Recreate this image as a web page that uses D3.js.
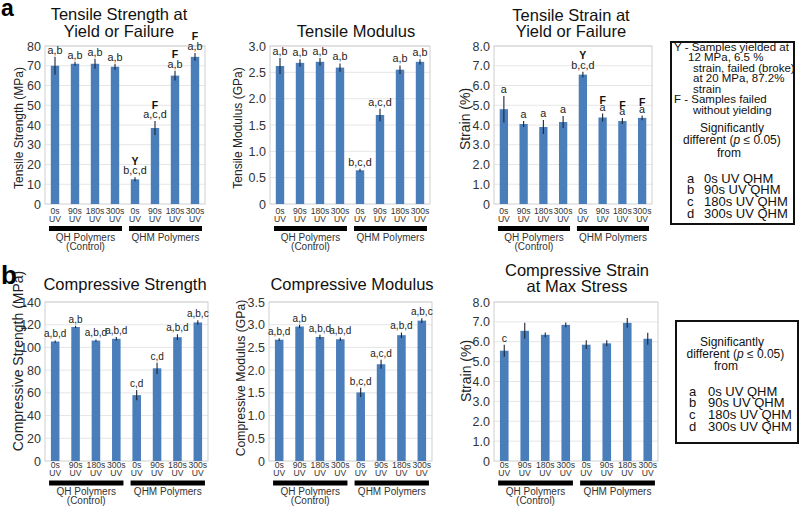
<!DOCTYPE html>
<html><head><meta charset="utf-8">
<script src="https://cdn.jsdelivr.net/npm/d3@7"></script>
<style>
body{margin:0;background:#fff;}
svg{display:block;font-family:"Liberation Sans",Arial,sans-serif;}
</style></head><body>
<svg id="c" width="800" height="508"></svg>
<script>
// ---------- DATA ----------
const categories = ["0s UV","90s UV","180s UV","300s UV","0s UV","90s UV","180s UV","300s UV"];
const groupLabels = ["QH Polymers","QHM Polymers"];
const groupSubLabels = ["(Control)",""];

const tensileStrength     = [70, 71, 71, 69.5, 12.5, 38.5, 65, 74.5];
const tensileStrengthErr  = [4.5, 1, 2.5, 1.5, 1, 3.5, 2.5, 2];
const tensileStrengthSig  = ["a,b","a,b","a,b","a,b","b,c,d","a,c,d","a,b","a,b"];
const tensileStrengthMark = ["","","","","Y","F","F","F"];

const tensileModulus     = [2.62, 2.68, 2.70, 2.59, 0.64, 1.69, 2.55, 2.70];
const tensileModulusErr  = [0.15, 0.07, 0.07, 0.08, 0.03, 0.12, 0.08, 0.05];
const tensileModulusSig  = ["a,b","a,b","a,b","a,b","b,c,d","a,c,d","a,b","a,b"];

const tensileStrain     = [4.8, 4.05, 3.9, 4.15, 6.55, 4.38, 4.2, 4.36];
const tensileStrainErr  = [0.67, 0.15, 0.35, 0.3, 0.15, 0.2, 0.15, 0.12];
const tensileStrainSig  = ["a","a","a","a","b,c,d","a","a","a"];
const tensileStrainMark = ["","","","","Y","F","F","F"];

const compStrength     = [105.2, 118, 106, 107.6, 58, 81.6, 109, 122];
const compStrengthErr  = [1, 1, 1, 1.5, 4.5, 5, 2.5, 2];
const compStrengthSig  = ["a,b,d","a,b","a,b,d","a,b,d","c,d","c,d","a,b,d","a,b,c"];

const compModulus     = [2.67, 2.96, 2.73, 2.68, 1.51, 2.13, 2.77, 3.09];
const compModulusErr  = [0.03, 0.04, 0.05, 0.04, 0.1, 0.1, 0.06, 0.05];
const compModulusSig  = ["a,b,d","a,b","a,b,d","a,b,d","b,c,d","a,c,d","a,b,d","a,b,c"];

const compStrain     = [5.55, 6.55, 6.35, 6.85, 5.85, 5.92, 6.95, 6.15];
const compStrainErr  = [0.3, 0.4, 0.12, 0.12, 0.22, 0.15, 0.25, 0.3];
const compStrainSig  = ["c","","","","","","",""];

const legendTopLines = [
  ["Y - Samples yielded at", 0],
  ["12 MPa, 6.5 %", 14],
  ["strain, failed (broke)", 19],
  ["at 20 MPa, 87.2%", 19],
  ["strain", 19],
  ["F - Samples failed", 0],
  ["without yielding", 19]
];
const sigHeader = ["Significantly", "different (", "p", " \u2264 0.05)", "from"];
const sigKeys = ["a","b","c","d"];
const sigNames = ["0s UV QHM","90s UV QHM","180s UV QHM","300s UV QHM"];

// ---------- DRAW ----------
const svg = d3.select("#c");
const BAR = "#4a7ebb";
const NARROW = "'Liberation Sans Narrow','Arial Narrow','Liberation Sans',Arial,sans-serif";
const f1 = d3.format(".1f");

function panel(cfg) {
  const g = svg.append("g");
  const n = categories.length;
  const x = d3.scaleBand().domain(d3.range(n)).range([cfg.x0, cfg.x1]).paddingInner(0.58).paddingOuter(0.29);
  const step = x.step();
  const y = d3.scaleLinear().domain([0, cfg.ymax]).range([cfg.y1, cfg.y0]);
  const ticks = d3.range(0, cfg.ymax + cfg.step / 2, cfg.step);

  g.selectAll("line.grid").data(ticks.slice(1)).join("line")
    .attr("x1", cfg.x0).attr("x2", cfg.x1)
    .attr("y1", d => y(d)).attr("y2", d => y(d))
    .attr("stroke", "#e6e6e6").attr("stroke-width", 1);
  g.append("rect").attr("x", cfg.x0).attr("y", cfg.y0)
    .attr("width", cfg.x1 - cfg.x0).attr("height", cfg.y1 - cfg.y0)
    .attr("fill", "none").attr("stroke", "#cfcfcf").attr("stroke-width", 1);

  const ax = g.append("g").attr("transform", `translate(${cfg.x0},0)`)
    .call(d3.axisLeft(y).tickValues(ticks).tickSize(0).tickPadding(4)
      .tickFormat(d => d === 0 ? "0" : cfg.fmt(d)));
  ax.select(".domain").remove();
  ax.attr("font-family", null).attr("font-size", null);
  ax.selectAll("text").attr("font-size", 12.5).attr("fill", "#333");

  // bars
  g.selectAll("rect.bar").data(cfg.values).join("rect")
    .attr("x", (d, i) => x(i)).attr("width", x.bandwidth())
    .attr("y", d => y(d)).attr("height", d => y(0) - y(d))
    .attr("fill", BAR);
  // error bars
  g.selectAll("line.err").data(cfg.values).join("line")
    .attr("x1", (d, i) => x(i) + x.bandwidth() / 2).attr("x2", (d, i) => x(i) + x.bandwidth() / 2)
    .attr("y1", (d, i) => y(d - cfg.err[i])).attr("y2", (d, i) => y(d + cfg.err[i]))
    .attr("stroke", "#1c2433").attr("stroke-width", 1.1);
  // significance labels
  g.selectAll("text.sig").data(cfg.sig).join("text")
    .attr("x", (d, i) => x(i) + x.bandwidth() / 2)
    .attr("y", (d, i) => y(cfg.values[i] + cfg.err[i]) - 3)
    .attr("text-anchor", "middle").attr("font-size", cfg.sigSize).attr("fill", "#222")
    .text(d => d);
  if (cfg.marks) {
    g.selectAll("text.mark").data(cfg.marks).join("text")
      .attr("x", (d, i) => x(i) + x.bandwidth() / 2)
      .attr("y", (d, i) => y(cfg.values[i] + cfg.err[i]) - 3 - (/[bdfhklt]/.test(cfg.sig[i]) ? 9.5 : 6.5))
      .attr("text-anchor", "middle").attr("font-size", 10.5).attr("font-weight", "bold").attr("fill", "#111")
      .text(d => d);
  }
  // category labels
  const cl = g.selectAll("text.cat").data(categories).join("text")
    .attr("text-anchor", "middle").attr("font-size", 8.6).attr("font-family", NARROW).attr("fill", "#333");
  cl.each(function (d, i) {
    const parts = d.split(" ");
    const t = d3.select(this);
    t.append("tspan").attr("x", x(i) + x.bandwidth() / 2).attr("y", cfg.y1 + cfg.lab[0]).text(parts[0]);
    t.append("tspan").attr("x", x(i) + x.bandwidth() / 2).attr("y", cfg.y1 + cfg.lab[1]).text(parts[1]);
  });
  // group bars
  const per = n / groupLabels.length;
  groupLabels.forEach((gl, k) => {
    const a = x(k * per) - x.paddingOuter() * step + 0.2 * step;
    const b = x((k + 1) * per - 1) + x.bandwidth() + x.paddingOuter() * step - 0.15 * step;
    g.append("rect").attr("x", a).attr("y", cfg.y1 + cfg.lab[2]).attr("width", b - a).attr("height", 5).attr("fill", "#000");
    g.append("text").attr("x", (a + b) / 2).attr("y", cfg.y1 + cfg.lab[3])
      .attr("text-anchor", "middle").attr("font-size", 10).attr("font-family", NARROW).attr("fill", "#333").text(gl);
    if (groupSubLabels[k]) g.append("text").attr("x", (a + b) / 2).attr("y", cfg.y1 + cfg.lab[4])
      .attr("text-anchor", "middle").attr("font-size", 10).attr("font-family", NARROW).attr("fill", "#333").text(groupSubLabels[k]);
  });
  // title
  cfg.title.forEach((t, k) => {
    g.append("text").attr("x", cfg.tx).attr("y", cfg.ty[k]).attr("text-anchor", "middle")
      .attr("font-size", 16.5).attr("fill", "#111").text(t);
  });
  // y title
  g.append("text").attr("transform", `translate(${cfg.yt[0]},${cfg.yt[1]}) rotate(-90)`)
    .attr("text-anchor", "middle").attr("dominant-baseline", "central")
    .attr("font-size", cfg.yt[2]).attr("fill", "#222").text(cfg.ytitle);
}

const rowA = [9.7, 18.3, 22, 37, 46];
const rowB = [7.2, 14.8, 19.5, 34.2, 42.5];

panel({x0: 45, x1: 205, y0: 46, y1: 204, ymax: 80, step: 10, fmt: d3.format("d"),
  values: tensileStrength, err: tensileStrengthErr, sig: tensileStrengthSig, marks: tensileStrengthMark, sigSize: 10.8,
  lab: rowA, title: ["Tensile Strength at", "Yield or Failure"], tx: 119, ty: [20, 37],
  ytitle: "Tensile Strength (MPa)", yt: [19, 128, 12]});
panel({x0: 270, x1: 430, y0: 46, y1: 204, ymax: 3.0, step: 0.5, fmt: f1,
  values: tensileModulus, err: tensileModulusErr, sig: tensileModulusSig, sigSize: 10.8,
  lab: rowA, title: ["Tensile Modulus"], tx: 356, ty: [37.3],
  ytitle: "Tensile Modulus (GPa)", yt: [238, 128, 12]});
panel({x0: 494, x1: 652, y0: 46, y1: 204, ymax: 8, step: 1, fmt: f1,
  values: tensileStrain, err: tensileStrainErr, sig: tensileStrainSig, marks: tensileStrainMark, sigSize: 10.8,
  lab: rowA, title: ["Tensile Strain at", "Yield or Failure"], tx: 571, ty: [20.5, 37.3],
  ytitle: "Strain (%)", yt: [465, 119, 14]});
panel({x0: 45, x1: 208, y0: 302, y1: 461, ymax: 140, step: 20, fmt: d3.format("d"),
  values: compStrength, err: compStrengthErr, sig: compStrengthSig, sigSize: 10,
  lab: rowB, title: ["Compressive Strength"], tx: 125, ty: [289.5],
  ytitle: "Compressive Strength (MPa)", yt: [17.5, 361, 14]});
panel({x0: 269, x1: 432, y0: 302, y1: 461, ymax: 3.5, step: 0.5, fmt: f1,
  values: compModulus, err: compModulusErr, sig: compModulusSig, sigSize: 10,
  lab: rowB, title: ["Compressive Modulus"], tx: 352, ty: [290],
  ytitle: "Compressive Modulus (GPa)", yt: [241, 378, 12.2]});
panel({x0: 494, x1: 658, y0: 302, y1: 461, ymax: 8, step: 1, fmt: f1,
  values: compStrain, err: compStrainErr, sig: compStrainSig, sigSize: 10.5,
  lab: rowB, title: ["Compressive Strain", "at Max Stress"], tx: 577, ty: [276, 291.7],
  ytitle: "Strain (%)", yt: [466, 371, 14]});

// panel letters
svg.append("text").attr("x", 1).attr("y", 16).attr("font-size", 23).attr("font-weight", "bold").text("a");
svg.append("text").attr("x", 1).attr("y", 283.5).attr("font-size", 26).attr("font-weight", "bold").text("b");

// legends
function sigBlock(g, base, xs) {
  const h = g.append("text").attr("font-size", 12).attr("fill", "#111");
  h.append("tspan").attr("x", xs[0]).attr("y", base[0]).text(sigHeader[0]);
  h.append("tspan").attr("x", xs[1]).attr("y", base[1]).text(sigHeader[1]);
  h.append("tspan").attr("font-style", "italic").text(sigHeader[2]);
  h.append("tspan").text(sigHeader[3]);
  h.append("tspan").attr("x", xs[2]).attr("y", base[2]).text(sigHeader[4]);
  sigKeys.forEach((k, i) => {
    g.append("text").attr("x", xs[3]).attr("y", base[3] + i * 11.7).attr("font-size", 13).attr("fill", "#111").text(k);
    g.append("text").attr("x", xs[4]).attr("y", base[3] + i * 11.7).attr("font-size", 13).attr("fill", "#111").text(sigNames[i]);
  });
}
const L1 = svg.append("g");
L1.append("rect").attr("x", 671).attr("y", 42).attr("width", 123).attr("height", 182)
  .attr("fill", "none").attr("stroke", "#111").attr("stroke-width", 2);
legendTopLines.forEach((l, i) => {
  L1.append("text").attr("x", 674 + l[1]).attr("y", 50.8 + i * 10.45)
    .attr("font-size", 11.5).attr("fill", "#111").text(l[0]);
});
sigBlock(L1, [131.7, 144, 156.7, 182.7], [700, 683, 717, 687, 704]);

const L2 = svg.append("g");
L2.append("rect").attr("x", 676).attr("y", 321).attr("width", 122).attr("height", 122)
  .attr("fill", "none").attr("stroke", "#111").attr("stroke-width", 2);
sigBlock(L2, [346, 358, 370, 395.7], [700, 686.5, 714, 689, 708]);
</script>
</body></html>
